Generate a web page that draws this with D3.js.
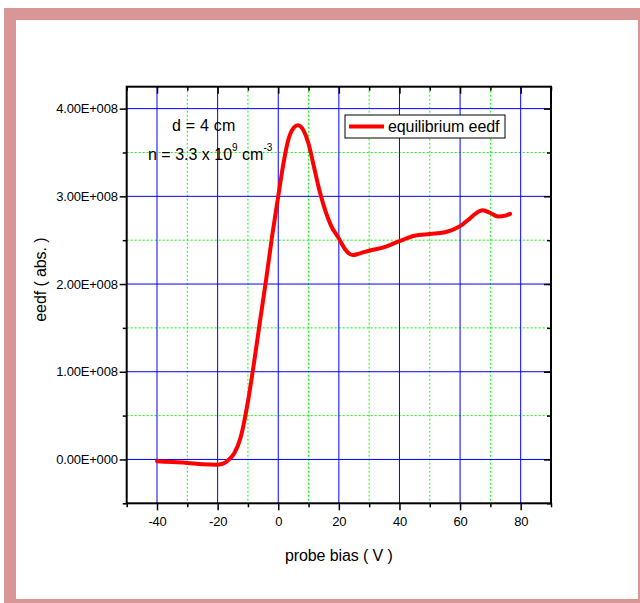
<!DOCTYPE html>
<html>
<head>
<meta charset="utf-8">
<script src="https://cdn.jsdelivr.net/npm/d3@7"></script>
<style>
  body { margin: 0; background: #fff; }
  text { font-family: "Liberation Sans", Arial, sans-serif; fill: #000; }
</style>
</head>
<body>
<div id="chart"></div>
<script>
// probe bias (V) vs eedf (abs.)
var bias = [-40, -35, -30, -25, -20, -18, -16.5, -14.5, -12.5, -10, -8, -6, -4, -2, 0, 1.5, 3, 4.5, 6.5, 8.5, 10, 11.5, 13.5, 15.5, 17.5, 20, 22, 24.5, 27, 30, 35, 40, 45, 50, 55, 60, 63, 65, 67.5, 70, 72.5, 75, 76.5]
var eedf = [-0.02, -0.03, -0.04, -0.055, -0.06, -0.045, -0.01, 0.07, 0.24, 0.66, 1.1, 1.58, 2.05, 2.55, 3.0, 3.33, 3.6, 3.75, 3.81, 3.74, 3.6, 3.38, 3.08, 2.84, 2.66, 2.52, 2.40, 2.33, 2.35, 2.38, 2.42, 2.49, 2.55, 2.57, 2.59, 2.66, 2.74, 2.80, 2.84, 2.81, 2.77, 2.78, 2.80].map(function(v){ return v * 1e8 })

var xTicks = [-40, -20, 0, 20, 40, 60, 80]
var xMinor = [-50, -30, -10, 10, 30, 50, 70, 90]
var yTicks = [0, 1e8, 2e8, 3e8, 4e8]
var yTickLabels = ["0.00E+000", "1.00E+008", "2.00E+008", "3.00E+008", "4.00E+008"]
var yMinor = [-0.5e8, 0.5e8, 1.5e8, 2.5e8, 3.5e8]
var seriesName = "equilibrium eedf"

const W = 640, H = 603
const margin = {top: 86.7, right: 89, bottom: 99.7, left: 126.7}
const width = W - margin.left - margin.right
const height = H - margin.top - margin.bottom

var svg = d3.select("#chart").append("svg")
  .attr("width", W)
  .attr("height", H)

// pink frame
svg.append("rect").attr("x", 4).attr("y", 8).attr("width", W - 4).attr("height", H - 8).attr("fill", "#d99696")
svg.append("rect").attr("x", 16).attr("y", 20).attr("width", 622).attr("height", 579).attr("fill", "#fff")

var g = svg.append("g").attr("transform", "translate(" + margin.left + "," + margin.top + ")")

var x = d3.scaleLinear().domain([-50, 90]).range([0, width])
var y = d3.scaleLinear().domain([-0.5e8, 4.25e8]).range([height, 0])

// grids: blue solid on major, green dotted on minor
g.selectAll(".gx-minor").data(xMinor.filter(function(d){ return d > -50 && d < 90 })).enter().append("line")
  .attr("x1", function(d){ return x(d) }).attr("x2", function(d){ return x(d) })
  .attr("y1", 0).attr("y2", height)
  .attr("stroke", "#00ff00").attr("stroke-width", 1).attr("stroke-dasharray", "2,2")
g.selectAll(".gy-minor").data(yMinor.filter(function(d){ return d > -0.5e8 })).enter().append("line")
  .attr("y1", function(d){ return y(d) }).attr("y2", function(d){ return y(d) })
  .attr("x1", 0).attr("x2", width)
  .attr("stroke", "#00ff00").attr("stroke-width", 1).attr("stroke-dasharray", "2,2")
g.selectAll(".gx").data(xTicks).enter().append("line")
  .attr("x1", function(d){ return x(d) }).attr("x2", function(d){ return x(d) })
  .attr("y1", 0).attr("y2", height)
  .attr("stroke", "#0000ff").attr("stroke-width", 1)
g.selectAll(".gy").data(yTicks).enter().append("line")
  .attr("y1", function(d){ return y(d) }).attr("y2", function(d){ return y(d) })
  .attr("x1", 0).attr("x2", width)
  .attr("stroke", "#0000ff").attr("stroke-width", 1)

// axes
g.append("g").attr("transform", "translate(0," + height + ")")
  .call(d3.axisBottom(x).tickValues(xTicks).tickSize(7).tickPadding(6).tickFormat(function(d){ return String(d) }))
g.append("g").attr("transform", "translate(0," + height + ")")
  .call(d3.axisBottom(x).tickValues(xMinor).tickSize(4).tickFormat(""))
g.append("g").call(d3.axisTop(x).tickValues(xTicks).tickSize(-7).tickFormat(""))
g.append("g").call(d3.axisTop(x).tickValues(xMinor).tickSize(-4).tickFormat(""))

g.append("g")
  .call(d3.axisLeft(y).tickValues(yTicks).tickSize(7).tickPadding(2).tickFormat(function(d, i){ return yTickLabels[i] }))
g.append("g").call(d3.axisLeft(y).tickValues(yMinor).tickSize(4).tickFormat(""))
g.append("g").attr("transform", "translate(" + width + ",0)")
  .call(d3.axisRight(y).tickValues(yTicks).tickSize(-7).tickFormat(""))
g.append("g").attr("transform", "translate(" + width + ",0)")
  .call(d3.axisRight(y).tickValues(yMinor).tickSize(-4).tickFormat(""))

g.selectAll(".domain").remove()
g.selectAll(".tick line").attr("stroke", "#000").attr("stroke-width", 1.5)
g.selectAll(".tick text")
  .attr("font-family", "'Liberation Sans', Arial, sans-serif")
  .attr("font-size", 13)
  .style("font-size", "13px").attr("fill", "#000").style("letter-spacing", "-0.2px")

// frame of plot
g.append("rect").attr("width", width).attr("height", height)
  .attr("fill", "none").attr("stroke", "#000").attr("stroke-width", 2)

// curve
g.append("path")
  .datum(d3.zip(bias, eedf))
  .attr("fill", "none")
  .attr("stroke", "#ff0000")
  .attr("stroke-width", 4)
  .attr("stroke-linejoin", "round")
  .attr("stroke-linecap", "round")
  .attr("d", d3.line()
    .curve(d3.curveMonotoneX)
    .x(function(d){ return x(d[0]) })
    .y(function(d){ return y(d[1]) }))

// axis titles
svg.append("text")
  .attr("x", margin.left + x(20)).attr("y", 561)
  .attr("text-anchor", "middle")
  .style("font-size", "16px").style("letter-spacing", "-0.1px")
  .text("probe bias ( V )")
svg.append("text")
  .attr("transform", "translate(46," + (margin.top + y(2.05e8)) + ") rotate(-90)")
  .attr("text-anchor", "middle")
  .style("font-size", "16px").style("letter-spacing", "-0.1px")
  .text("eedf ( abs. )")

// legend
var leg = svg.append("g")
leg.append("rect").attr("x", 345).attr("y", 115).attr("width", 160).attr("height", 23)
  .attr("fill", "#fff").attr("stroke", "#000").attr("stroke-width", 1)
leg.append("line").attr("x1", 349).attr("x2", 384).attr("y1", 126.5).attr("y2", 126.5)
  .attr("stroke", "#ff0000").attr("stroke-width", 4)
leg.append("text").attr("x", 388).attr("y", 132)
  .style("font-size", "16px").style("letter-spacing", "-0.1px")
  .text(seriesName)

// annotations
svg.append("text").attr("x", 172).attr("y", 131)
  .style("font-size", "16px").style("letter-spacing", "0.2px")
  .text("d = 4 cm")
var n = svg.append("text").attr("x", 148).attr("y", 160)
  .style("font-size", "16px").style("letter-spacing", "0px")
n.append("tspan").text("n = 3.3 x 10")
n.append("tspan").attr("dy", -9).style("font-size", "10px").text("9")
n.append("tspan").attr("dy", 9).text(" cm")
n.append("tspan").attr("dy", -9).style("font-size", "10px").text("-3")
</script>
</body>
</html>
